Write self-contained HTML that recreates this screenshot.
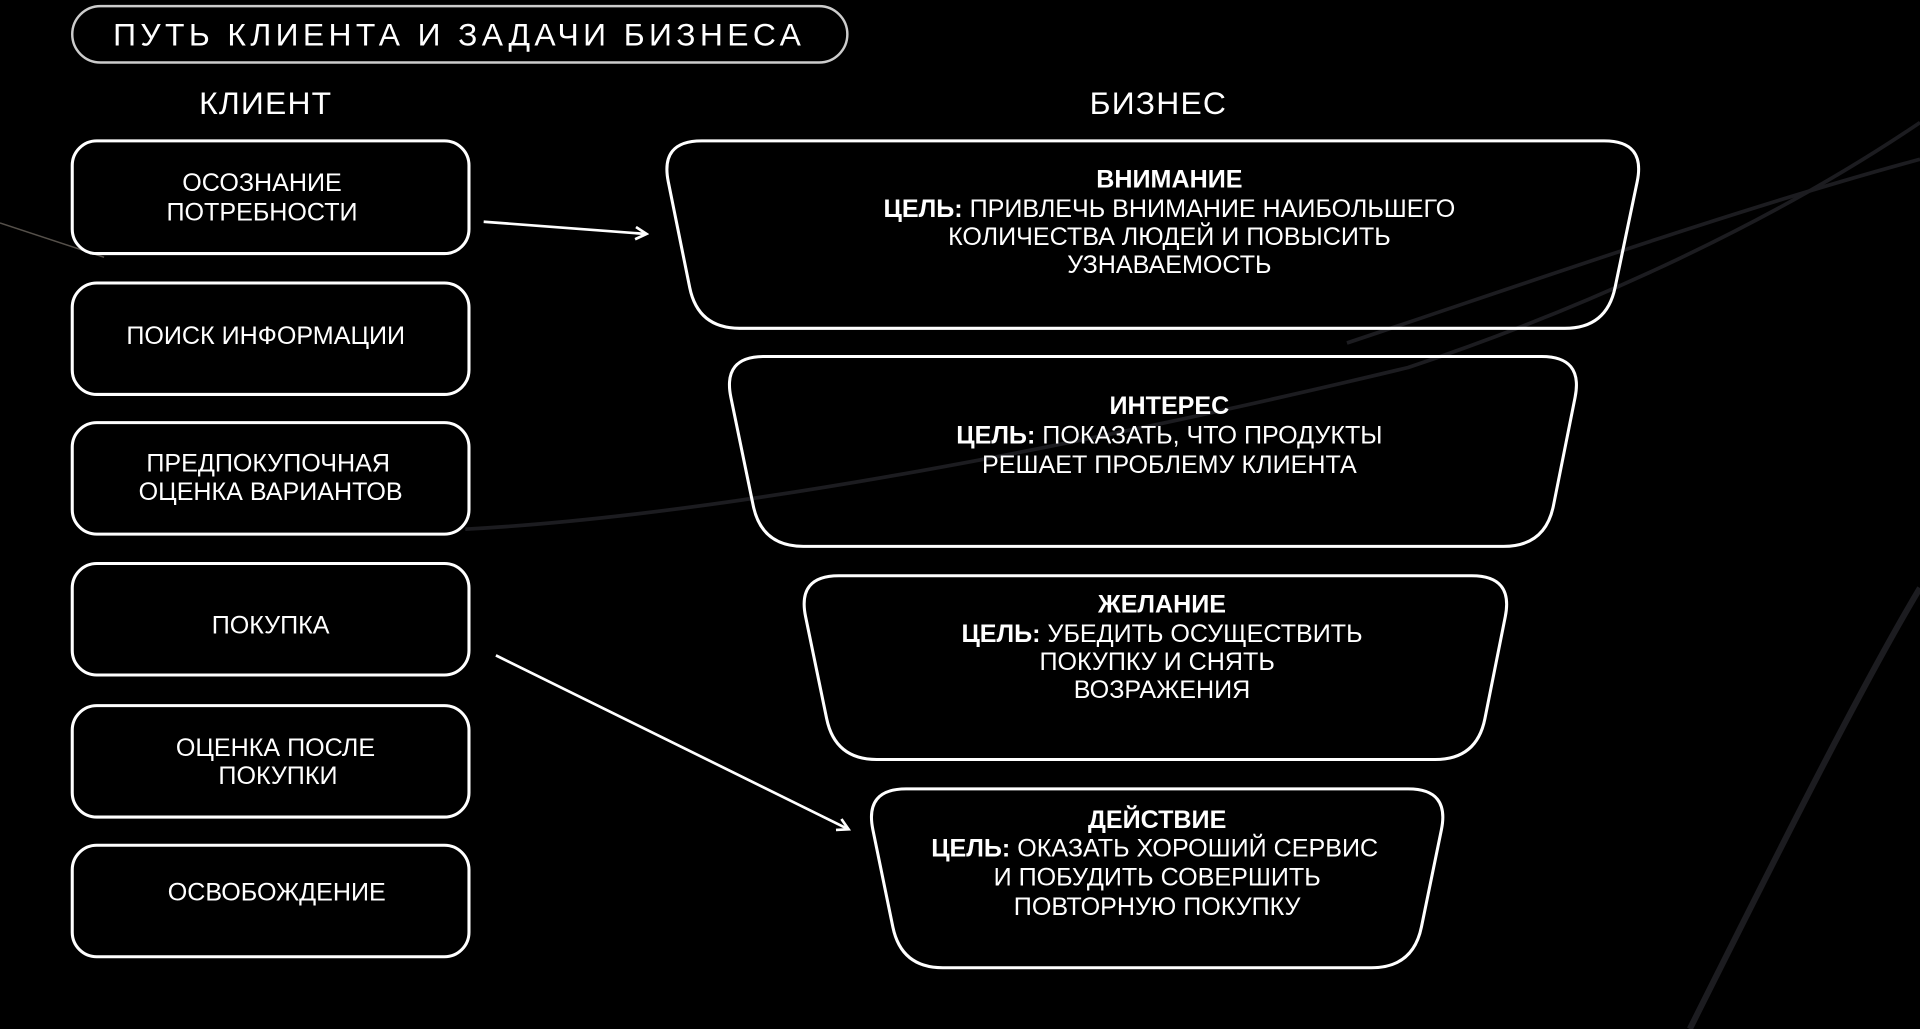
<!DOCTYPE html>
<html><head><meta charset="utf-8">
<style>
html,body{margin:0;padding:0;background:#000;width:1920px;height:1029px;overflow:hidden}
svg{display:block}
text{font-family:"Liberation Sans",sans-serif;fill:#fff}
</style></head>
<body>
<svg id="s" width="1920" height="1029" viewBox="0 0 1568 840" preserveAspectRatio="none" xmlns="http://www.w3.org/2000/svg">
<defs>
<marker id="ah" markerWidth="12" markerHeight="12" refX="10" refY="6" orient="auto" markerUnits="userSpaceOnUse">
<path d="M1,1 L10,6 L1,11" fill="none" stroke="#fff" stroke-width="2.2"/>
</marker>
</defs>
<rect width="1568" height="840" fill="#000"/>
<g fill="none" stroke="#1c1c20" stroke-width="3">
<path d="M380,432 C600,420 900,360 1150,300 C1300,250 1450,180 1568,100"/>
<path d="M1380,840 C1450,700 1520,560 1568,480" stroke-width="5"/>
<path d="M1100,280 C1250,230 1420,170 1568,130"/>
</g>
<path d="M0,182 L85,210" stroke="#55504a" stroke-width="1.2"/>

<rect x="59" y="5" width="633" height="46" rx="23" fill="none" stroke="#ccc" stroke-width="2"/>
<text x="375" y="37" font-size="26" text-anchor="middle" letter-spacing="3.6">ПУТЬ КЛИЕНТА И ЗАДАЧИ БИЗНЕСА</text>
<text x="217" y="93" font-size="26" text-anchor="middle" letter-spacing="1">КЛИЕНТ</text>
<text x="946" y="93" font-size="26" text-anchor="middle" letter-spacing="1">БИЗНЕС</text>

<g fill="none" stroke="#fff" stroke-width="2.5">
<rect x="59" y="115" width="324" height="92" rx="20"/>
<rect x="59" y="231" width="324" height="91" rx="20"/>
<rect x="59" y="345" width="324" height="91" rx="20"/>
<rect x="59" y="460" width="324" height="91" rx="20"/>
<rect x="59" y="576" width="324" height="91" rx="20"/>
<rect x="59" y="690" width="324" height="91" rx="20"/>
</g>
<g font-size="20.5" text-anchor="middle">
<text x="214" y="156">ОСОЗНАНИЕ</text>
<text x="214" y="180">ПОТРЕБНОСТИ</text>
<text x="217" y="281">ПОИСК ИНФОРМАЦИИ</text>
<text x="219" y="385">ПРЕДПОКУПОЧНАЯ</text>
<text x="221" y="408">ОЦЕНКА ВАРИАНТОВ</text>
<text x="221" y="517">ПОКУПКА</text>
<text x="225" y="617">ОЦЕНКА ПОСЛЕ</text>
<text x="227" y="640">ПОКУПКИ</text>
<text x="226" y="735">ОСВОБОЖДЕНИЕ</text>
</g>

<g stroke="#fff" stroke-width="2.2" fill="none">
<line x1="395" y1="181" x2="528" y2="191" marker-end="url(#ah)"/>
<line x1="405" y1="535" x2="693" y2="677" marker-end="url(#ah)"/>
</g>

<g id="traps" fill="none" stroke="#fff" stroke-width="2.5"></g>

<g font-size="20.5" text-anchor="middle">
<text x="955" y="153" font-weight="bold">ВНИМАНИЕ</text>
<text x="955" y="177"><tspan font-weight="bold">ЦЕЛЬ:</tspan> ПРИВЛЕЧЬ ВНИМАНИЕ НАИБОЛЬШЕГО</text>
<text x="955" y="200">КОЛИЧЕСТВА ЛЮДЕЙ И ПОВЫСИТЬ</text>
<text x="955" y="223">УЗНАВАЕМОСТЬ</text>

<text x="955" y="338" font-weight="bold">ИНТЕРЕС</text>
<text x="955" y="362"><tspan font-weight="bold">ЦЕЛЬ:</tspan> ПОКАЗАТЬ, ЧТО ПРОДУКТЫ</text>
<text x="955" y="386">РЕШАЕТ ПРОБЛЕМУ КЛИЕНТА</text>

<text x="949" y="500" font-weight="bold">ЖЕЛАНИЕ</text>
<text x="949" y="524"><tspan font-weight="bold">ЦЕЛЬ:</tspan> УБЕДИТЬ ОСУЩЕСТВИТЬ</text>
<text x="945" y="547">ПОКУПКУ И СНЯТЬ</text>
<text x="949" y="570">ВОЗРАЖЕНИЯ</text>

<text x="945" y="676" font-weight="bold">ДЕЙСТВИЕ</text>
<text x="943" y="699"><tspan font-weight="bold">ЦЕЛЬ:</tspan> ОКАЗАТЬ ХОРОШИЙ СЕРВИС</text>
<text x="945" y="723">И ПОБУДИТЬ СОВЕРШИТЬ</text>
<text x="945" y="747">ПОВТОРНУЮ ПОКУПКУ</text>
</g>
</svg>
<script>
function rp(pts,r){
  var n=pts.length,d="";
  for(var i=0;i<n;i++){
    var p=pts[i],a=pts[(i+n-1)%n],b=pts[(i+1)%n];
    function pt(q){var dx=q[0]-p[0],dy=q[1]-p[1],l=Math.hypot(dx,dy);return [p[0]+dx/l*r,p[1]+dy/l*r];}
    var s=pt(a),e=pt(b);
    d+=(i==0?"M":"L")+s[0]+","+s[1]+" Q"+p[0]+","+p[1]+" "+e[0]+","+e[1]+" ";
  }
  return d+"Z";
}
var T=[[539,1344,115,570,1312,268],[590,1293,291,622,1262,446],[651,1236,470,682,1206,620],[706,1184,644,736,1154,790]];
var g=document.getElementById("traps");
T.forEach(function(t){
  var p=document.createElementNS("http://www.w3.org/2000/svg","path");
  p.setAttribute("d",rp([[t[0],t[2]],[t[1],t[2]],[t[4],t[5]],[t[3],t[5]]],34));
  g.appendChild(p);
});
</script>
</body></html>
